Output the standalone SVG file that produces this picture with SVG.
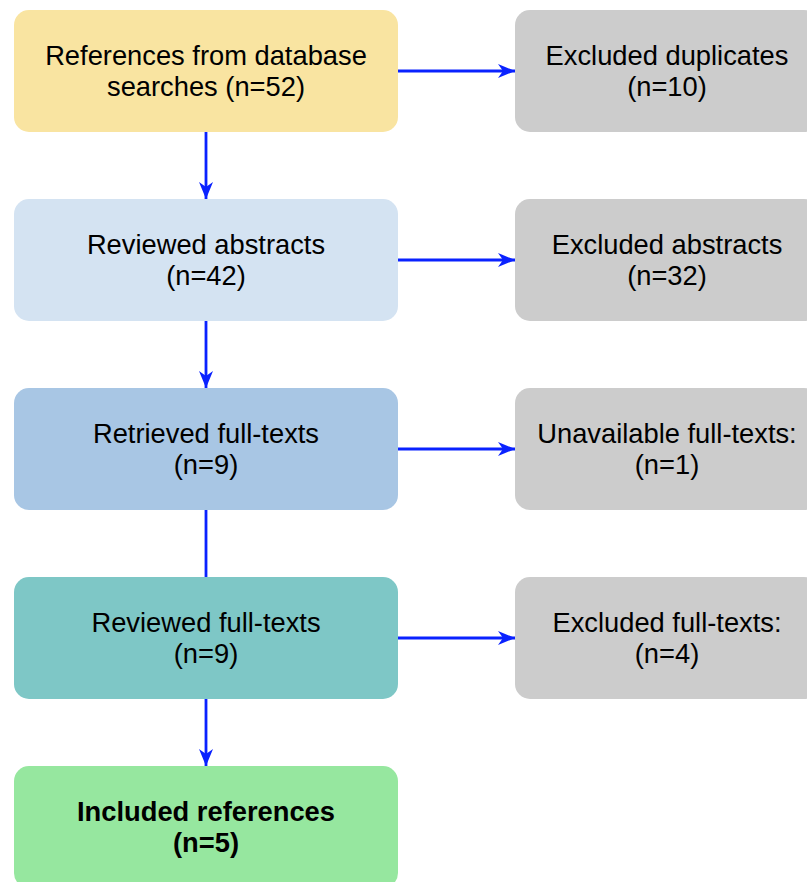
<svg xmlns="http://www.w3.org/2000/svg" width="807" height="882" viewBox="0 0 807 882">
<style>
.box{stroke:none}
.t{font-family:"Liberation Sans",Arial,sans-serif;font-size:27.3px;fill:#000;text-anchor:middle}
.b{font-weight:bold}
.c{stroke:#0a22ff;stroke-width:2.8;fill:none}
</style>
<defs>
<marker id="ah" markerUnits="userSpaceOnUse" markerWidth="20" markerHeight="20" refX="17" refY="10" orient="auto">
<path d="M0,3 L17,10 L0,17 L5,10 z" fill="#0a22ff"/>
</marker>
</defs>
<rect width="807" height="882" fill="#fff"/>
<g id="connectors">
<line class="c" x1="206" y1="132" x2="206" y2="199" marker-end="url(#ah)"/>
<line class="c" x1="206" y1="321" x2="206" y2="388" marker-end="url(#ah)"/>
<line class="c" x1="206" y1="510" x2="206" y2="577"/>
<line class="c" x1="206" y1="699" x2="206" y2="766" marker-end="url(#ah)"/>
<line class="c" x1="398" y1="71" x2="515" y2="71" marker-end="url(#ah)"/>
<line class="c" x1="398" y1="260" x2="515" y2="260" marker-end="url(#ah)"/>
<line class="c" x1="398" y1="449" x2="515" y2="449" marker-end="url(#ah)"/>
<line class="c" x1="398" y1="638" x2="515" y2="638" marker-end="url(#ah)"/>
</g>
<g id="n1"><rect class="box" x="14" y="10" width="384" height="122" rx="15" fill="#f9e4a1"/>
<text class="t" x="206" y="65">References from database</text><text class="t" x="206" y="96">searches (n=52)</text></g>
<g id="n2"><rect class="box" x="14" y="199" width="384" height="122" rx="15" fill="#d4e3f2"/>
<text class="t" x="206" y="254">Reviewed abstracts</text><text class="t" x="206" y="285">(n=42)</text></g>
<g id="n3"><rect class="box" x="14" y="388" width="384" height="122" rx="15" fill="#a8c6e4"/>
<text class="t" x="206" y="443">Retrieved full-texts</text><text class="t" x="206" y="474">(n=9)</text></g>
<g id="n4"><rect class="box" x="14" y="577" width="384" height="122" rx="15" fill="#7ec7c6"/>
<text class="t" x="206" y="632">Reviewed full-texts</text><text class="t" x="206" y="663">(n=9)</text></g>
<g id="n5"><rect class="box" x="14" y="766" width="384" height="122" rx="15" fill="#96e79f"/>
<text class="t b" x="206" y="821">Included references</text><text class="t b" x="206" y="852">(n=5)</text></g>
<g id="e1"><rect class="box" x="515" y="10" width="304" height="122" rx="15" fill="#cccccc"/>
<text class="t" x="667" y="65">Excluded duplicates</text><text class="t" x="667" y="96">(n=10)</text></g>
<g id="e2"><rect class="box" x="515" y="199" width="304" height="122" rx="15" fill="#cccccc"/>
<text class="t" x="667" y="254">Excluded abstracts</text><text class="t" x="667" y="285">(n=32)</text></g>
<g id="e3"><rect class="box" x="515" y="388" width="304" height="122" rx="15" fill="#cccccc"/>
<text class="t" x="667" y="443">Unavailable full-texts:</text><text class="t" x="667" y="474">(n=1)</text></g>
<g id="e4"><rect class="box" x="515" y="577" width="304" height="122" rx="15" fill="#cccccc"/>
<text class="t" x="667" y="632">Excluded full-texts:</text><text class="t" x="667" y="663">(n=4)</text></g>
</svg>
